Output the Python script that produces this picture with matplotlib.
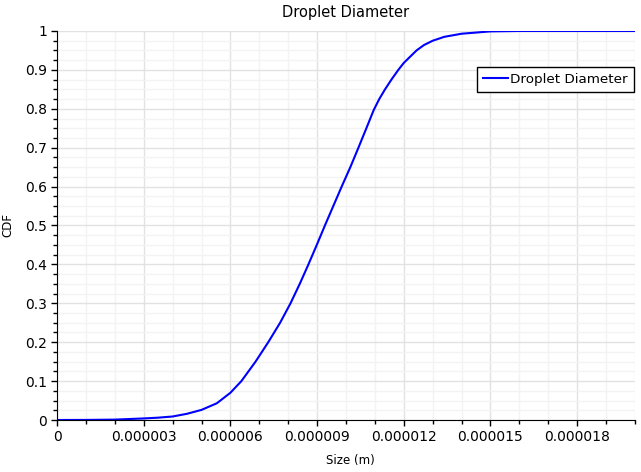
import numpy as np
import matplotlib
matplotlib.use("Agg")
import matplotlib.pyplot as plt
from matplotlib.ticker import MultipleLocator, FuncFormatter

# values (size in micrometres -> m, cumulative fraction)
size_um = [0, 1, 2, 3, 3.5, 4, 4.5, 5, 5.53, 6, 6.38, 6.87, 7.31, 7.72, 8.08, 8.4,
           8.7, 9.0, 9.27, 9.56, 9.85, 10.0, 10.15, 10.43, 10.71, 10.96, 11.15,
           11.35, 11.58, 11.81, 12.0, 12.44, 12.7, 13.0, 13.4, 14.0, 15.0, 16.0, 20.0]
cdf = [0, 0.0002, 0.001, 0.004, 0.006, 0.009, 0.016, 0.026, 0.043, 0.07, 0.1, 0.15,
       0.2, 0.25, 0.3, 0.35, 0.4, 0.452, 0.5, 0.55, 0.6, 0.625, 0.65, 0.7, 0.751,
       0.797, 0.825, 0.85, 0.876, 0.9, 0.918, 0.95, 0.964, 0.975, 0.985, 0.993,
       0.999, 1.0, 1.0]
size = np.array(size_um) * 1e-6

fig = plt.figure(figsize=(6.41, 4.72), dpi=100)
ax = fig.add_axes([57 / 641, 1 - 420 / 472, (635 - 57) / 641, (420 - 31) / 472])

ax.plot(size, cdf, color='#0000ff', lw=1.5, label='Droplet Diameter')

ax.set_xlim(0, 2e-5)
ax.set_ylim(0, 1)
ax.xaxis.set_major_locator(MultipleLocator(3e-6))
ax.xaxis.set_minor_locator(MultipleLocator(1e-6))
ax.yaxis.set_major_locator(MultipleLocator(0.1))
ax.yaxis.set_minor_locator(MultipleLocator(0.025))
ax.xaxis.set_major_formatter(FuncFormatter(lambda v, p: '0' if abs(v) < 1e-12 else f'{v:.6f}'))
ax.yaxis.set_major_formatter(FuncFormatter(lambda v, p: f'{v:.1f}'.rstrip('0').rstrip('.') if v else '0'))

ax.grid(which='major', color='#e2e2e2', lw=1)
ax.grid(which='minor', color='#f3f3f3', lw=1)
ax.set_axisbelow(True)
for s in ['top', 'right']:
    ax.spines[s].set_visible(False)
ax.tick_params(which='major', length=4, width=1, labelsize=10, color='black', pad=3)
ax.tick_params(which='minor', length=3, width=1, color='black')

ax.set_title('Droplet Diameter', fontsize=10.5, pad=10)
ax.set_xlabel('Size (m)', fontsize=8.5, va='center')
ax.set_ylabel('CDF', fontsize=8.5, va='center')
ax.xaxis.set_label_coords(0.507, -0.105)
ax.yaxis.set_label_coords(-0.085, 0.5)

leg = ax.legend(loc='upper right', bbox_to_anchor=(634 / 641, 1 - 67 / 472),
                bbox_transform=fig.transFigure, fancybox=False, framealpha=1,
                edgecolor='black', fontsize=9.7, handlelength=1.8, handletextpad=0.2,
                borderpad=0.45, borderaxespad=0)
leg.get_frame().set_linewidth(1)

fig.savefig('out.png', dpi=100)
